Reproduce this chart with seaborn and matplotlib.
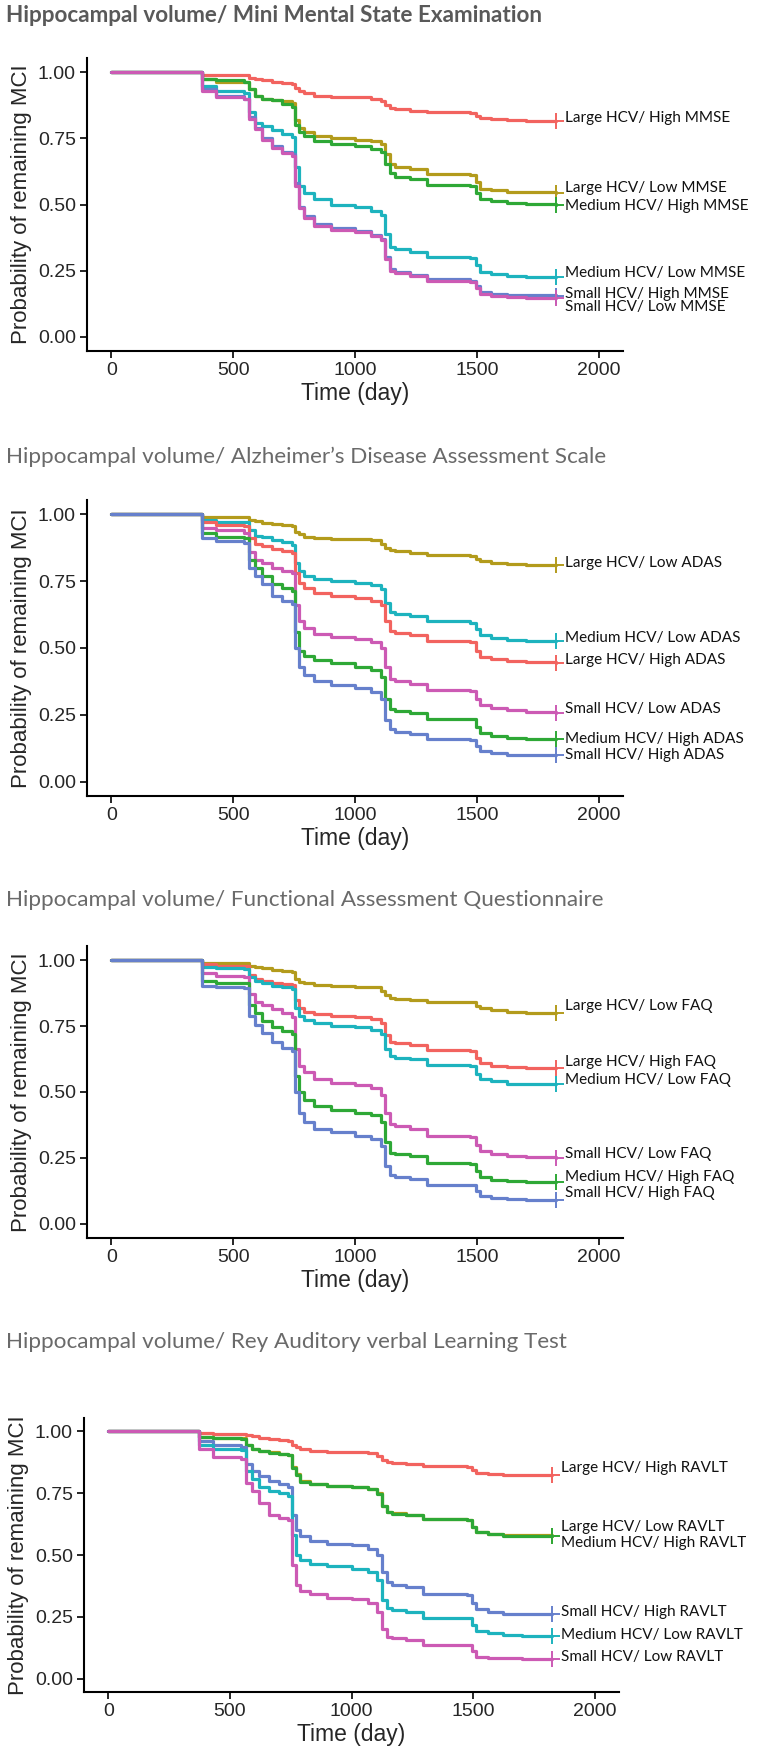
import numpy as np
import pandas as pd
import matplotlib
matplotlib.use('Agg')
import matplotlib.pyplot as plt
import seaborn as sns

# Shared step times (days) for every Kaplan-Meier curve
times = [0, 350, 372, 430, 545, 565, 590, 620, 660, 700, 740, 755, 770, 790, 830, 900,
         1000, 1067, 1105, 1125, 1145, 1165, 1226, 1296, 1474, 1495, 1514, 1560, 1623, 1700, 1825]

# Panel 1: MMSE
mmse_groups = ['Large HCV/ High MMSE', 'Large HCV/ Low MMSE', 'Medium HCV/ High MMSE',
               'Medium HCV/ Low MMSE', 'Small HCV/ High MMSE', 'Small HCV/ Low MMSE']
mmse_large_high = [1, 1, 0.99, 0.99, 0.99, 0.98, 0.975, 0.97, 0.965, 0.96, 0.955, 0.94, 0.93, 0.92, 0.91, 0.905,
                   0.905, 0.90, 0.89, 0.875, 0.865, 0.86, 0.855, 0.848, 0.845, 0.835, 0.828, 0.822, 0.818, 0.815, 0.815]
mmse_large_low = [1, 1, 0.975, 0.965, 0.965, 0.935, 0.91, 0.90, 0.895, 0.89, 0.885, 0.82, 0.79, 0.775, 0.76, 0.75,
                  0.745, 0.74, 0.73, 0.69, 0.655, 0.64, 0.633, 0.614, 0.61, 0.585, 0.56, 0.553, 0.549, 0.546, 0.545]
mmse_medium_high = [1, 1, 0.975, 0.97, 0.965, 0.935, 0.91, 0.90, 0.895, 0.88, 0.87, 0.80, 0.775, 0.76, 0.74, 0.728,
                    0.72, 0.71, 0.70, 0.655, 0.62, 0.605, 0.595, 0.575, 0.57, 0.545, 0.52, 0.512, 0.506, 0.502, 0.50]
mmse_medium_low = [1, 1, 0.95, 0.93, 0.923, 0.85, 0.81, 0.795, 0.78, 0.765, 0.755, 0.64, 0.57, 0.545, 0.52, 0.50,
                   0.49, 0.475, 0.46, 0.39, 0.34, 0.33, 0.321, 0.30, 0.297, 0.27, 0.244, 0.237, 0.231, 0.227, 0.225]
mmse_small_high = [1, 1, 0.935, 0.912, 0.90, 0.83, 0.79, 0.75, 0.72, 0.70, 0.69, 0.58, 0.49, 0.455, 0.425, 0.41,
                   0.40, 0.385, 0.37, 0.30, 0.255, 0.245, 0.235, 0.218, 0.212, 0.19, 0.17, 0.163, 0.158, 0.156, 0.155]
mmse_small_low = [1, 1, 0.93, 0.908, 0.898, 0.825, 0.785, 0.745, 0.715, 0.695, 0.685, 0.57, 0.485, 0.45, 0.42, 0.405,
                  0.395, 0.38, 0.365, 0.295, 0.25, 0.24, 0.23, 0.212, 0.207, 0.185, 0.163, 0.155, 0.149, 0.146, 0.145]

# Panel 2: ADAS
adas_groups = ['Large HCV/ Low ADAS', 'Medium HCV/ Low ADAS', 'Large HCV/ High ADAS',
               'Small HCV/ Low ADAS', 'Medium HCV/ High ADAS', 'Small HCV/ High ADAS']
adas_large_low = [1, 1, 0.99, 0.99, 0.99, 0.98, 0.975, 0.969, 0.963, 0.96, 0.955, 0.936, 0.925, 0.917, 0.912, 0.909,
                  0.909, 0.905, 0.89, 0.875, 0.868, 0.862, 0.856, 0.849, 0.846, 0.835, 0.825, 0.82, 0.815, 0.812, 0.81]
adas_medium_low = [1, 1, 0.979, 0.973, 0.97, 0.94, 0.92, 0.915, 0.905, 0.895, 0.885, 0.82, 0.79, 0.77, 0.757, 0.75,
                   0.742, 0.736, 0.72, 0.67, 0.635, 0.627, 0.621, 0.60, 0.595, 0.57, 0.547, 0.537, 0.53, 0.527, 0.525]
adas_large_high = [1, 1, 0.973, 0.96, 0.958, 0.91, 0.89, 0.88, 0.872, 0.862, 0.855, 0.78, 0.745, 0.725, 0.707, 0.695,
                   0.689, 0.677, 0.66, 0.60, 0.565, 0.555, 0.547, 0.526, 0.522, 0.49, 0.467, 0.457, 0.452, 0.446, 0.443]
adas_small_low = [1, 1, 0.948, 0.94, 0.932, 0.86, 0.83, 0.819, 0.80, 0.788, 0.78, 0.66, 0.60, 0.575, 0.553, 0.541,
                  0.532, 0.522, 0.50, 0.43, 0.385, 0.375, 0.367, 0.343, 0.34, 0.31, 0.286, 0.275, 0.267, 0.26, 0.257]
adas_medium_high = [1, 1, 0.93, 0.917, 0.912, 0.83, 0.80, 0.769, 0.738, 0.726, 0.715, 0.56, 0.49, 0.47, 0.456, 0.442,
                    0.43, 0.417, 0.39, 0.31, 0.272, 0.265, 0.257, 0.236, 0.233, 0.205, 0.183, 0.172, 0.164, 0.161, 0.16]
adas_small_high = [1, 1, 0.911, 0.90, 0.893, 0.80, 0.769, 0.738, 0.695, 0.677, 0.665, 0.50, 0.43, 0.40, 0.375, 0.362,
                   0.35, 0.337, 0.31, 0.23, 0.195, 0.185, 0.177, 0.159, 0.157, 0.135, 0.115, 0.107, 0.101, 0.10, 0.10]

# Panel 3: FAQ
faq_groups = ['Large HCV/ Low FAQ', 'Large HCV/ High FAQ', 'Medium HCV/ Low FAQ',
              'Small HCV/ Low FAQ', 'Medium HCV/ High FAQ', 'Small HCV/ High FAQ']
faq_large_low = [1, 1, 0.99, 0.99, 0.989, 0.98, 0.975, 0.969, 0.963, 0.96, 0.955, 0.93, 0.918, 0.912, 0.906, 0.903,
                 0.90, 0.897, 0.885, 0.868, 0.858, 0.854, 0.848, 0.842, 0.84, 0.827, 0.817, 0.81, 0.804, 0.801, 0.80]
faq_large_high = [1, 1, 0.985, 0.98, 0.978, 0.945, 0.93, 0.922, 0.915, 0.91, 0.905, 0.85, 0.82, 0.805, 0.796, 0.788,
                  0.786, 0.777, 0.76, 0.715, 0.69, 0.685, 0.678, 0.66, 0.655, 0.63, 0.61, 0.60, 0.594, 0.591, 0.59]
faq_medium_low = [1, 1, 0.974, 0.969, 0.966, 0.935, 0.92, 0.912, 0.903, 0.897, 0.89, 0.82, 0.79, 0.775, 0.761, 0.75,
                  0.746, 0.736, 0.72, 0.665, 0.635, 0.63, 0.625, 0.604, 0.60, 0.57, 0.55, 0.54, 0.532, 0.53, 0.53]
faq_small_low = [1, 1, 0.953, 0.941, 0.937, 0.87, 0.842, 0.83, 0.815, 0.798, 0.786, 0.665, 0.60, 0.575, 0.55, 0.536,
                 0.526, 0.514, 0.49, 0.42, 0.38, 0.37, 0.359, 0.334, 0.33, 0.30, 0.278, 0.265, 0.256, 0.252, 0.251]
faq_medium_high = [1, 1, 0.922, 0.915, 0.912, 0.83, 0.798, 0.77, 0.745, 0.73, 0.72, 0.56, 0.50, 0.47, 0.446, 0.433,
                   0.421, 0.411, 0.385, 0.31, 0.27, 0.263, 0.256, 0.231, 0.227, 0.20, 0.177, 0.167, 0.161, 0.158, 0.157]
faq_small_high = [1, 1, 0.903, 0.898, 0.895, 0.79, 0.755, 0.725, 0.69, 0.668, 0.655, 0.50, 0.42, 0.385, 0.359, 0.347,
                  0.334, 0.322, 0.295, 0.22, 0.185, 0.178, 0.17, 0.149, 0.147, 0.125, 0.105, 0.098, 0.093, 0.092, 0.092]

# Panel 4: RAVLT
ravlt_groups = ['Large HCV/ High RAVLT', 'Large HCV/ Low RAVLT', 'Medium HCV/ High RAVLT',
                'Small HCV/ High RAVLT', 'Medium HCV/ Low RAVLT', 'Small HCV/ Low RAVLT']
ravlt_large_high = [1, 1, 0.993, 0.99, 0.99, 0.985, 0.982, 0.973, 0.97, 0.967, 0.963, 0.945, 0.935, 0.928, 0.922, 0.918,
                    0.918, 0.913, 0.90, 0.885, 0.876, 0.871, 0.867, 0.858, 0.855, 0.843, 0.833, 0.828, 0.824, 0.823, 0.823]
ravlt_large_low = [1, 1, 0.978, 0.974, 0.972, 0.945, 0.93, 0.922, 0.915, 0.91, 0.905, 0.855, 0.828, 0.80, 0.787, 0.78,
                   0.776, 0.768, 0.75, 0.70, 0.675, 0.668, 0.663, 0.647, 0.642, 0.615, 0.595, 0.586, 0.582, 0.579, 0.578]
ravlt_medium_high = [1, 1, 0.977, 0.973, 0.971, 0.943, 0.928, 0.922, 0.914, 0.909, 0.903, 0.85, 0.825, 0.797, 0.786, 0.779,
                     0.775, 0.768, 0.748, 0.698, 0.672, 0.665, 0.661, 0.645, 0.64, 0.612, 0.593, 0.583, 0.578, 0.576, 0.575]
ravlt_small_high = [1, 1, 0.959, 0.943, 0.936, 0.87, 0.84, 0.82, 0.80, 0.786, 0.775, 0.66, 0.60, 0.575, 0.556, 0.546,
                    0.54, 0.526, 0.50, 0.43, 0.39, 0.38, 0.369, 0.342, 0.34, 0.305, 0.28, 0.27, 0.262, 0.26, 0.26]
ravlt_medium_low = [1, 1, 0.945, 0.929, 0.925, 0.84, 0.806, 0.776, 0.758, 0.749, 0.74, 0.58, 0.50, 0.48, 0.464, 0.454,
                    0.444, 0.43, 0.40, 0.32, 0.285, 0.278, 0.27, 0.246, 0.244, 0.215, 0.191, 0.183, 0.178, 0.173, 0.172]
ravlt_small_low = [1, 1, 0.929, 0.895, 0.888, 0.79, 0.758, 0.71, 0.663, 0.649, 0.64, 0.46, 0.38, 0.355, 0.342, 0.328,
                   0.321, 0.307, 0.27, 0.20, 0.17, 0.164, 0.157, 0.137, 0.135, 0.11, 0.089, 0.084, 0.082, 0.08, 0.08]

x_ticks = [0, 500, 1000, 1500, 2000]
y_ticks = [0.0, 0.25, 0.5, 0.75, 1.0]

RED, GOLD, GREEN, CYAN, BLUE, MAG = '#F2635F', '#B39B1C', '#2EA836', '#1DB3BE', '#6680CC', '#CC5AB4'

W, H = 758, 1746

panels = [
    dict(title='Hippocampal volume/ Mini Mental State Examination', bold=True, title_y=15,
         box=(87, 58, 623, 351), groups=mmse_groups,
         series=[mmse_large_high, mmse_large_low, mmse_medium_high, mmse_medium_low, mmse_small_high, mmse_small_low],
         colors=[RED, GOLD, GREEN, CYAN, BLUE, MAG],
         label_y=[0.827, 0.562, 0.493, 0.241, 0.161, 0.111]),
    dict(title='Hippocampal volume/ Alzheimer\u2019s Disease Assessment Scale', bold=False, title_y=457,
         box=(87, 500, 623, 796), groups=adas_groups,
         series=[adas_large_low, adas_medium_low, adas_large_high, adas_small_low, adas_medium_high, adas_small_high],
         colors=[GOLD, CYAN, RED, MAG, GREEN, BLUE],
         label_y=[0.818, 0.538, 0.454, 0.27, 0.16, 0.10]),
    dict(title='Hippocampal volume/ Functional Assessment Questionnaire', bold=False, title_y=900,
         box=(87, 946, 623, 1238), groups=faq_groups,
         series=[faq_large_low, faq_large_high, faq_medium_low, faq_small_low, faq_medium_high, faq_small_high],
         colors=[GOLD, RED, CYAN, MAG, GREEN, BLUE],
         label_y=[0.827, 0.615, 0.547, 0.265, 0.177, 0.115]),
    dict(title='Hippocampal volume/ Rey Auditory verbal Learning Test', bold=False, title_y=1342,
         box=(84, 1418, 619, 1692), groups=ravlt_groups,
         series=[ravlt_large_high, ravlt_large_low, ravlt_medium_high, ravlt_small_high, ravlt_medium_low, ravlt_small_low],
         colors=[RED, GOLD, GREEN, BLUE, CYAN, MAG],
         label_y=[0.85, 0.615, 0.549, 0.27, 0.178, 0.089]),
]

sns.set_style('ticks')
plt.rcParams['font.family'] = ['Liberation Sans', 'DejaVu Sans']

fig = plt.figure(figsize=(W / 100, H / 100), dpi=100)

for p in panels:
    l, t, r, b = p['box']
    ax = fig.add_axes([l / W, 1 - b / H, (r - l) / W, (b - t) / H])

    rows = []
    for g, s in zip(p['groups'], p['series']):
        for tm, v in zip(times, s):
            rows.append((tm, v, g))
    df = pd.DataFrame(rows, columns=['time', 'surv', 'group'])
    pal = dict(zip(p['groups'], p['colors']))

    sns.lineplot(data=df, x='time', y='surv', hue='group', hue_order=p['groups'], palette=pal,
                 estimator=None, drawstyle='steps-post', linewidth=2.3, legend=False, ax=ax)

    # censor marks at the end of follow-up and curve labels
    for g, s, c, ly in zip(p['groups'], p['series'], p['colors'], p['label_y']):
        ax.plot([times[-1]], [s[-1]], marker='+', color=c, markersize=11, markeredgewidth=1.4)
        ax.text(1860, ly, g, fontsize=11, family=['Lato', 'DejaVu Sans'], va='center', ha='left',
                color='#111111', clip_on=False)

    ax.set_xlim(-100, 2100)
    ax.set_ylim(-0.054, 1.054)
    ax.set_xticks(x_ticks)
    ax.set_yticks(y_ticks)
    ax.set_yticklabels(['0.00', '0.25', '0.50', '0.75', '1.00'])
    ax.tick_params(axis='both', labelsize=14, length=5, width=1.2, color='black', pad=3)
    ax.set_xlabel('Time (day)', fontsize=16.5, labelpad=2)
    ax.set_ylabel('Probability of remaining MCI', fontsize=16, labelpad=4)
    sns.despine(ax=ax)
    for sp in ['left', 'bottom']:
        ax.spines[sp].set_linewidth(1.5)
        ax.spines[sp].set_color('black')

    fig.text(6 / W, 1 - p['title_y'] / H, p['title'], fontsize=16.2,
             fontweight='bold' if p['bold'] else 'normal',
             color='#595959' if p['bold'] else '#6a6a6a',
             family=['Lato', 'DejaVu Sans'], va='center', ha='left')

fig.savefig('out.png', dpi=100)
